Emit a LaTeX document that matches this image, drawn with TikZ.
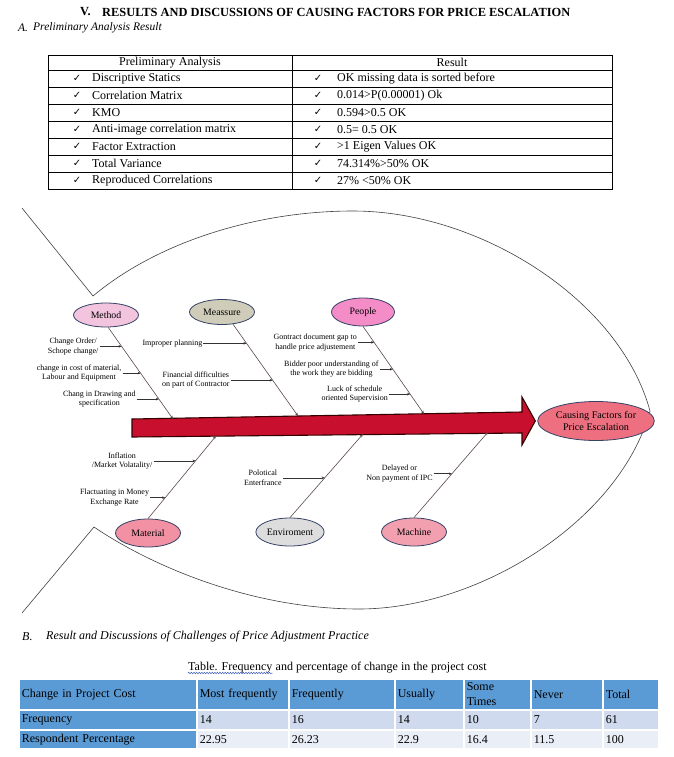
\documentclass[tikz,border=0pt]{standalone}
\usepackage{fontspec}
\setmainfont{Liberation Serif}
\newfontfamily\checkfont{DejaVu Sans}
\usetikzlibrary{calc,positioning,shapes.geometric,arrows.meta,decorations.pathmorphing}
\definecolor{methodpink}{RGB}{242,196,222}
\definecolor{measuregrey}{RGB}{207,204,185}
\definecolor{peoplepink}{RGB}{244,140,200}
\definecolor{effectpink}{RGB}{238,112,128}
\definecolor{materialpink}{RGB}{242,145,163}
\definecolor{envgrey}{RGB}{221,221,221}
\definecolor{machinepink}{RGB}{242,160,176}
\definecolor{catborder}{RGB}{52,66,100}
\definecolor{arrowred}{RGB}{200,16,46}
\definecolor{bonebrown}{RGB}{90,74,69}
\definecolor{hdblue}{RGB}{91,155,213}
\definecolor{rowa}{RGB}{207,218,238}
\definecolor{rowb}{RGB}{233,238,247}
\definecolor{spellblue}{RGB}{64,96,192}
\newcommand{\tick}{{\checkfont\fontsize{10}{11}\selectfont ✓}}
\newcommand{\causesize}{\fontsize{8}{9.5}\selectfont}
\tikzset{
    cat/.style={ellipse, draw=catborder, line width=0.8pt, minimum width=65pt, minimum height=26pt,
        inner sep=1pt, align=center, font=\fontsize{9.8}{11}\selectfont},
    cause/.style={align=center, inner sep=1pt, font=\causesize},
    bone/.style={draw=bonebrown, line width=0.6pt, -{Stealth[length=3.5pt,width=2.8pt]}},
    branch/.style={draw=black!80, line width=0.6pt, -{Stealth[length=3pt,width=2.6pt]}},
    outline/.style={draw=black!75, line width=0.6pt},
    bigarrow/.style={fill=arrowred, draw=black!80!red, line width=1.1pt, line join=miter},
    row/.style={anchor=west, inner sep=0pt, font=\fontsize{12}{14}\selectfont},
    heading/.style={anchor=west, inner sep=0pt, font=\itshape\fontsize{11.5}{14}\selectfont},
    cell/.style={anchor=north west, draw=white, line width=1.5pt, inner xsep=3pt, inner ysep=0pt,
        align=left, font=\fontsize{12}{15}\selectfont}
}

\begin{document}
\begin{tikzpicture}[x=1pt, y=-1pt]
    \useasboundingbox (0,0) rectangle (674,757);

    \node[anchor=west, inner sep=0pt, font=\bfseries\fontsize{12.4}{14}\selectfont] (sec-num) at (80,12) {V.};
    \node[anchor=west, inner sep=0pt, font=\bfseries\fontsize{12.4}{14}\selectfont] (sec-title) at (102,12)
        {RESULTS AND DISCUSSIONS OF CAUSING FACTORS FOR PRICE ESCALATION};
    \node[heading] (a-num) at (18,28) {A.};
    \node[heading] (a-title) at (33,28) {Preliminary Analysis Result};

    % preliminary analysis table
    \draw[line width=0.6pt] (48,55) rectangle (612,189);
    \draw[line width=0.6pt] (292,55) -- (292,189);
    \foreach \y in {70,87,104,121,138,155,172}
        \draw[line width=0.6pt] (48,\y) -- (612,\y);
    \node[row, anchor=center] (pa-head) at (170,62.5) {Preliminary Analysis};
    \node[row, anchor=center] (res-head) at (452,62.5) {Result};
    \foreach \l/\r [count=\i] in {Discriptive Statics/OK missing data is sorted before,
            Correlation Matrix/0.014>P(0.00001) Ok, KMO/0.594>0.5 OK,
            Anti-image correlation matrix/0.5= 0.5 OK, Factor Extraction/>1 Eigen Values OK,
            Total Variance/74.314\%>50\% OK, Reproduced Correlations/27\% <50\% OK}{
        \node[row, anchor=center] (lt\i) at (77,61.5+17*\i) {\tick};
        \node[row] (l\i) at (92,61.5+17*\i) {\l};
        \node[row, anchor=center] (rt\i) at (318,61.5+17*\i) {\tick};
        \node[row] (r\i) at (337,61.5+17*\i) {\r};
    }

    % fish outline
    \draw[outline] (22,208) -- (93,296) .. controls (160,240) and (260,211) .. (353,211)
        .. controls (480,211) and (620,300) .. (650,411)
        .. controls (620,520) and (480,609) .. (359,609)
        .. controls (250,609) and (150,565) .. (94,527) -- (22,613);

    \node[cat, fill=methodpink, minimum height=24pt] (method) at (106,315) {Method};
    \node[cat, fill=measuregrey, minimum height=25pt] (meassure) at (222,312) {Meassure};
    \node[cat, fill=peoplepink, minimum width=63pt, minimum height=28pt] (people) at (363,312) {People};
    \node[cat, fill=effectpink, minimum width=91pt, minimum height=39pt, font=\fontsize{10.2}{12}\selectfont]
        (effect) at (596,421) {Causing Factors for\\Price Escalation};
    \node[cat, fill=materialpink, minimum height=28pt] (material) at (148,533) {Material};
    \node[cat, fill=envgrey, minimum height=28pt] (enviroment) at (290,532) {Enviroment};
    \node[cat, fill=machinepink, minimum height=28pt] (machine) at (414,532) {Machine};

    \draw[bigarrow] (132,419) -- (522,412) -- (522,397) -- ($(effect.west)+(-2,0)$)
        -- (522,445) -- (522,433) -- (132,437) -- cycle;

    \coordinate (method-tip) at (173,419);
    \coordinate (meassure-tip) at (298,416);
    \coordinate (people-tip) at (424,414);
    \coordinate (material-tip) at (216,436);
    \coordinate (enviroment-tip) at (363,434);
    \coordinate (machine-tip) at (488,432);

    \draw[bone] (method.-80) -- (method-tip);
    \draw[bone] (meassure.-48) -- (meassure-tip);
    \draw[bone] (people.south) -- (people-tip);
    \draw[bone] (material.north) -- (material-tip);
    \draw[bone] (enviroment.north) -- (enviroment-tip);
    \draw[bone] (machine.north) -- (machine-tip);

    \coordinate (m1) at ($(method.-80)!0.207!(method-tip)$);
    \coordinate (m2) at ($(method.-80)!0.5!(method-tip)$);
    \coordinate (m3) at ($(method.-80)!0.783!(method-tip)$);
    \coordinate (s1) at ($(meassure.-48)!0.208!(meassure-tip)$);
    \coordinate (s2) at ($(meassure.-48)!0.61!(meassure-tip)$);
    \coordinate (p1) at ($(people.south)!0.182!(people-tip)$);
    \coordinate (p2) at ($(people.south)!0.489!(people-tip)$);
    \coordinate (p3) at ($(people.south)!0.773!(people-tip)$);
    \coordinate (t1) at ($(material.north)!0.699!(material-tip)$);
    \coordinate (t2) at ($(material.north)!0.253!(material-tip)$);
    \coordinate (e1) at ($(enviroment.north)!0.476!(enviroment-tip)$);
    \coordinate (c1) at ($(machine.north)!0.512!(machine-tip)$);

    \node[cause, left=22pt of m1] (chg-order) {Change Order/\\Schope change/};
    \node[cause, left=18pt of m2] (chg-cost) {change in cost of material,\\Labour and Equipment};
    \node[cause, left=22pt of m3] (chg-drawing) {Chang in Drawing and\\specification};
    \node[cause, left=43pt of s1] (planning) {Improper planning};
    \node[cause, left=42pt of s2] (financial) {Financial difficulties\\on part of Contractor};
    \node[cause, left=16pt of p1] (contract-gap) {Gontract document gap to\\handle price adjustement};
    \node[cause, left=13pt of p2] (bidder) {Bidder poor understanding of\\the work they are bidding};
    \node[cause, left=21pt of p3] (schedule) {Luck of schedule\\oriented Supervision};
    \node[cause, left=42pt of t1] (inflation) {Inflation\\/Market Volatality/};
    \node[cause, left=15pt of t2] (exchange) {Flactuating in Money\\Exchange Rate};
    \node[cause, left=42pt of e1] (political) {Polotical\\Enterfrance};
    \node[cause, left=18pt of c1] (ipc) {Delayed or\\Non payment of IPC};

    \draw[branch] (chg-order) -- (m1);
    \draw[branch] (chg-cost) -- (m2);
    \draw[branch] (chg-drawing) -- (m3);
    \draw[branch] (planning) -- (s1);
    \draw[branch] (financial) -- (s2);
    \draw[branch] (contract-gap) -- (p1);
    \draw[branch] (bidder) -- (p2);
    \draw[branch] (schedule) -- (p3);
    \draw[branch] (inflation) -- (t1);
    \draw[branch] (exchange) -- (t2);
    \draw[branch] (political) -- (e1);
    \draw[branch] (ipc) -- (c1);

    \node[heading, font=\itshape\fontsize{12}{14}\selectfont] (b-num) at (22,637) {B.};
    \node[heading, font=\itshape\fontsize{12}{14}\selectfont] (b-title) at (46,637)
        {Result and Discussions of Challenges of Price Adjustment Practice};

    % change in project cost table
    \node[row, anchor=base west] (cap-a) at (188,670) {Table. Frequency};
    \node[row, anchor=base west] (cap-b) at (cap-a.base east) {\ and percentage of change in the project cost};
    \draw[spellblue, line width=0.5pt, decorate, decoration={snake, amplitude=0.8pt, segment length=2.6pt}]
        ($(cap-a.base west)+(0,3)$) -- ($(cap-a.base east)+(0,3)$);

    \node[cell, fill=hdblue, text width=172pt, minimum height=31pt] (h1) at (18,678) {Change in Project Cost};
    \node[cell, fill=hdblue, text width=172pt, minimum height=20pt] (f1) at (18,709) {Frequency};
    \node[cell, fill=hdblue, text width=172pt, minimum height=19pt] (r1) at (18,729) {Respondent Percentage};
    \foreach \x/\w/\hd/\fq/\pc [count=\i from 2] in {196/92/Most frequently/14/22.95,
            288/106/Frequently/16/26.23, 394/69/Usually/14/22.9, 463/67/{Some\\Times}/10/16.4,
            530/72/Never/7/11.5, 602/56/Total/61/100}{
        \pgfmathsetmacro\tw{\w-6}
        \node[cell, fill=hdblue, text width=\tw pt, minimum height=31pt] (h\i) at (\x,678) {\hd};
        \node[cell, fill=rowa, text width=\tw pt, minimum height=20pt] (f\i) at (\x,709) {\fq};
        \node[cell, fill=rowb, text width=\tw pt, minimum height=19pt] (r\i) at (\x,729) {\pc};
    }
\end{tikzpicture}
\end{document}
